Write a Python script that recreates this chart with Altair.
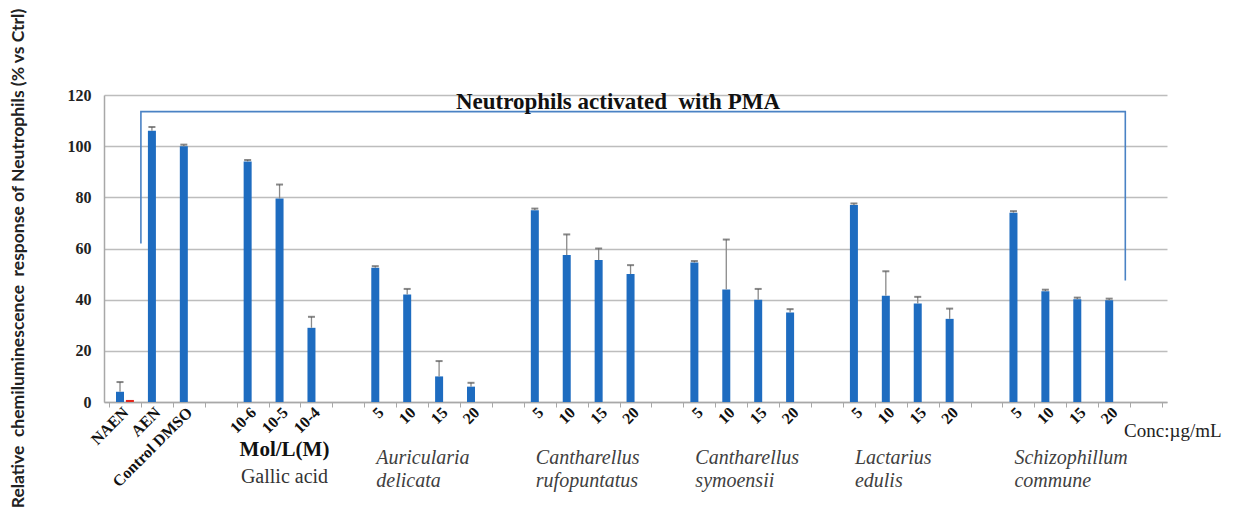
import altair as alt
import pandas as pd

# ---- data ----
slot_labels = ["NAEN", "AEN", "Control DMSO", "", "10-6", "10-5", "10-4", "",
               "5", "10", "15", "20", "",
               "5", "10", "15", "20", "",
               "5", "10", "15", "20", "",
               "5", "10", "15", "20", "",
               "5", "10", "15", "20", ""]

blue_vals = [4, 106, 100, None, 94, 79.5, 29, None,
             52.5, 42, 10, 6, None,
             75, 57.5, 55.5, 50, None,
             54.5, 44, 40, 35, None,
             77, 41.5, 38.5, 32.5, None,
             74, 43.3, 40.2, 39.8, None]
blue_err = [3.8, 1.5, 0.6, None, 0.6, 5.5, 4.3, None,
            0.6, 2.2, 6, 1.5, None,
            0.6, 8, 4.5, 3.5, None,
            0.6, 19.5, 4.2, 1.3, None,
            0.6, 9.6, 2.6, 4, None,
            0.6, 0.6, 0.6, 0.6, None]
red_vals = {0: 0.8}

group_names = ["Auricularia\ndelicata", "Cantharellus\nrufopuntatus",
               "Cantharellus\nsymoensii", "Lactarius\nedulis",
               "Schizophillum\ncommune"]
group_first_slot = [8, 13, 18, 23, 28]

bracket_x = [1.0, 1.0, 31.85, 31.85]
bracket_y = [62, 113.5, 113.5, 47.5]

title_text = "Neutrophils activated\u00a0\u00a0with PMA"
y_title = "Relative\u00a0\u00a0chemiluminescence\u00a0\u00a0response of Neutrophils (% vs Ctrl)"

BLUE = "#1e6cc0"
RED = "#e3261c"
SERIF = "Liberation Serif"

# ---- tables ----
rows = []
for i, (v, e) in enumerate(zip(blue_vals, blue_err)):
    if v is None:
        continue
    rows.append({"pos": i + 0.5 - 0.155, "v": v, "top": v + e, "s": "blue"})
for i, v in red_vals.items():
    rows.append({"pos": i + 0.5 + 0.155, "v": v, "top": v, "s": "red"})
bars_df = pd.DataFrame(rows)
err_df = bars_df[bars_df["s"] == "blue"]

lab_df = pd.DataFrame({"c": [i + 0.5 for i in range(len(slot_labels))],
                       "label": slot_labels})
grp_df = pd.DataFrame({"gx": group_first_slot, "gl": group_names})
br_df = pd.DataFrame({"bx": bracket_x, "by": bracket_y, "i": range(4)})

xscale = alt.Scale(domain=[0, 33], nice=False, zero=False)
yscale = alt.Scale(domain=[0, 120], nice=False)

x_axis = alt.Axis(values=list(range(34)), labels=False, ticks=True, tickSize=5,
                  tickColor="#a8a8a8", tickWidth=1, domainColor="#a8a8a8",
                  domainWidth=1.5, grid=False, title=None)
y_axis = alt.Axis(values=[0, 20, 40, 60, 80, 100, 120], title=y_title,
                  titleFont="Lato", titleFontWeight="bold", titleFontSize=17.5,
                  titleColor="#222222", titleX=-86, titleY=163, titleAngle=270,
                  titleAlign="center", titleBaseline="middle",
                  labelFont=SERIF, labelFontWeight="bold", labelFontSize=16,
                  labelColor="#222222", ticks=False, labelPadding=13,
                  domainColor="#a8a8a8", domainWidth=1.5,
                  gridColor="#bdbdbd", gridWidth=1.5)


def X(field):
    return alt.X(field, scale=xscale, axis=x_axis, title=None)


def Y(field):
    return alt.Y(field, scale=yscale, axis=y_axis, title=y_title)


Y0 = alt.YDatum(0, scale=yscale, axis=y_axis, title=y_title)

bars = alt.Chart(bars_df).mark_bar(size=8, orient="vertical").encode(
    x=X("pos:Q"),
    y=Y("v:Q"),
    color=alt.Color("s:N", scale=alt.Scale(domain=["blue", "red"], range=[BLUE, RED]), legend=None),
)

err_rule = alt.Chart(err_df).mark_rule(color="#8a8a8a", strokeWidth=1.3).encode(
    x=X("pos:Q"), y=Y("v:Q"), y2="top:Q",
)
err_cap = alt.Chart(err_df).mark_tick(orient="horizontal", size=7, thickness=2,
                                      color="#555555").encode(
    x=X("pos:Q"), y=Y("top:Q"),
)

cat_labels = alt.Chart(lab_df).mark_text(
    angle=315, align="right", baseline="middle", font=SERIF, fontWeight="bold",
    fontSize=16, color="#111111", dx=-5, dy=6.4,
).encode(x=X("c:Q"), y=Y0, text="label:N")

grp_labels = alt.Chart(grp_df).mark_text(
    align="left", baseline="top", font=SERIF, fontStyle="italic", fontSize=20,
    color="#404040", lineBreak="\n", lineHeight=23, dx=12, dy=46,
).encode(x=X("gx:Q"), y=Y0, text="gl:N")

gallic_df = pd.DataFrame({"gx": [5.5], "t1": ["Mol/L(M)"], "t2": ["Gallic acid"]})
mol = alt.Chart(gallic_df).mark_text(
    align="center", baseline="middle", font=SERIF, fontWeight="bold",
    fontSize=21, color="#111111", dy=48,
).encode(x=X("gx:Q"), y=Y0, text="t1:N")
gallic = alt.Chart(gallic_df).mark_text(
    align="center", baseline="middle", font=SERIF, fontSize=20,
    color="#333333", dy=75,
).encode(x=X("gx:Q"), y=Y0, text="t2:N")

conc_df = pd.DataFrame({"cx": [32], "t": ["Conc:\u00b5g/mL"]})
conc = alt.Chart(conc_df).mark_text(
    align="left", baseline="middle", font=SERIF, fontSize=19,
    color="#222222", dx=-6, dy=29,
).encode(x=X("cx:Q"), y=Y0, text="t:N")

bracket = alt.Chart(br_df).mark_line(color="#4a82c4", strokeWidth=1.6).encode(
    x=X("bx:Q"), y=Y("by:Q"), order="i:O",
)

title_df = pd.DataFrame({"tx": [15.95], "ty": [113.5], "t": [title_text]})
title = alt.Chart(title_df).mark_text(
    align="center", baseline="middle", font=SERIF, fontWeight="bold",
    fontSize=23, color="#111111", dy=-10,
).encode(x=X("tx:Q"), y=Y("ty:Q"), text="t:N")

chart = alt.layer(bars, err_rule, err_cap, bracket, title, cat_labels,
                  grp_labels, mol, gallic, conc).properties(
    width=1063, height=307,
    autosize=alt.AutoSizeParams(type="none"),
    padding={"left": 96, "top": 87, "right": 59, "bottom": 107},
    background="white",
).configure_view(stroke=None)

chart.save("out.html", embed_options={"renderer": "svg", "actions": False})
